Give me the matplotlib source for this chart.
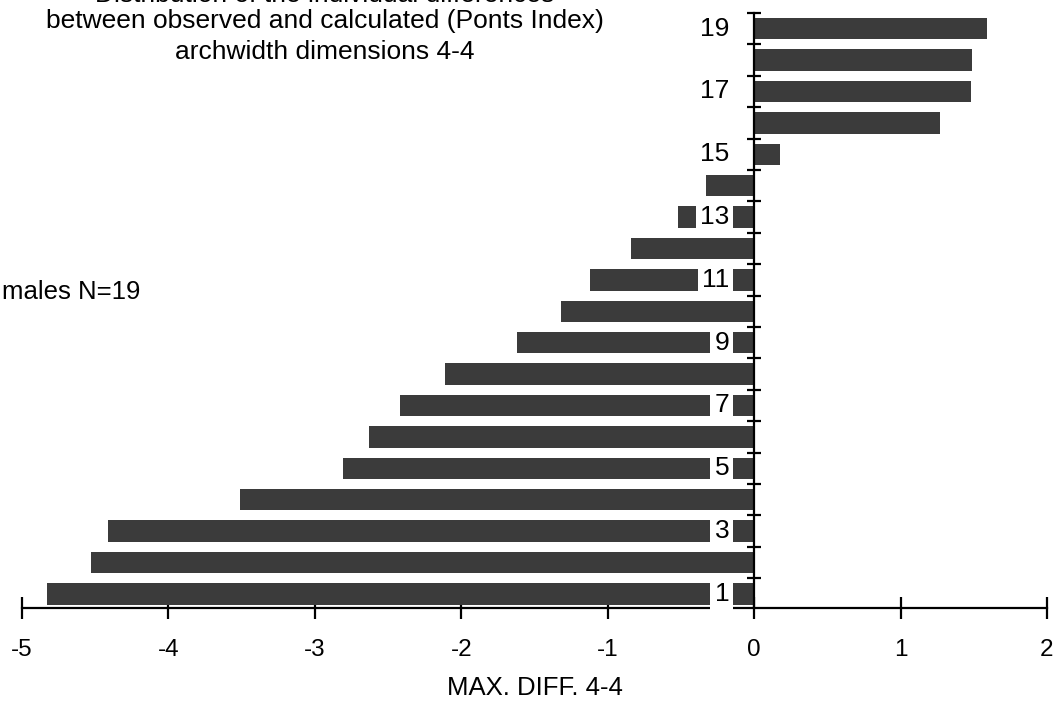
import numpy as np
import matplotlib.pyplot as plt

plt.rcParams['font.family'] = ['Liberation Sans', 'DejaVu Sans']

# individual differences, cases 1..19
cases = list(range(1, 20))
diffs = [-4.83, -4.53, -4.41, -3.51, -2.81, -2.63, -2.42, -2.11, -1.62, -1.32,
         -1.12, -0.84, -0.52, -0.33, 0.18, 1.27, 1.48, 1.49, 1.59]
labelled = [1, 3, 5, 7, 9, 11, 13, 15, 17, 19]
xticks = [-5, -4, -3, -2, -1, 0, 1, 2]

title_lines = ["Distribution of the individual differences",
               "between observed and calculated (Ponts Index)",
               "archwidth dimensions 4-4"]

fig = plt.figure(figsize=(10.6, 7.06), dpi=100)
ax = fig.add_axes([22 / 1060, 1 - 608 / 706, 1025 / 1060, 595 / 706])

bar_color = '#3b3b3b'
ax.barh(cases, diffs, height=0.68, color=bar_color, zorder=2)

ax.set_xlim(-5, 2)
ax.set_ylim(0.55, 19.5)

# spines: bottom axis plus a vertical axis through zero
for s in ['top', 'right']:
    ax.spines[s].set_visible(False)
ax.spines['left'].set_position(('data', 0))
ax.spines['left'].set_linewidth(1.6)
ax.spines['bottom'].set_linewidth(1.6)
ax.spines['left'].set_zorder(3)

ax.set_yticks(np.arange(1.5, 20, 1))
ax.set_yticklabels([])
ax.tick_params(axis='y', direction='inout', length=10, width=1.6)

ax.set_xticks(xticks)
ax.set_xticklabels([str(t) for t in xticks], fontsize=17.5)
ax.tick_params(axis='x', direction='inout', length=16, width=1.6, pad=14)

# case numbers on white patches next to the zero axis
for c in labelled:
    ax.text(-0.17, c, str(c), ha='right', va='center', fontsize=19, zorder=4,
            bbox=dict(facecolor='white', edgecolor='none', pad=3))

ax.set_xlabel('MAX. DIFF. 4-4', fontsize=18.5)
ax.xaxis.set_label_coords(0.5, -0.114)

# first title line sits mostly above the page edge, as in the scan
fig.text(325 / 1060, 1 + 5 / 706, title_lines[0], ha='center', va='center', fontsize=19)
fig.text(325 / 1060, 1 - 21 / 706, title_lines[1], ha='center', va='center', fontsize=19)
fig.text(325 / 1060, 1 - 52 / 706, title_lines[2], ha='center', va='center', fontsize=19)
fig.text(2 / 1060, 1 - 292 / 706, 'males N=19', ha='left', va='center', fontsize=18.5)

fig.savefig('out.png', dpi=100)
